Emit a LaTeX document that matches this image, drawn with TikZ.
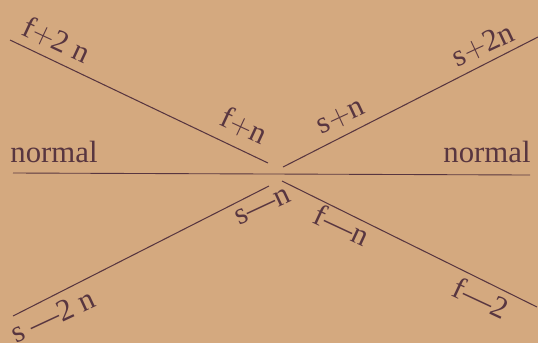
\documentclass[tikz,border=0pt]{standalone}
\usepackage{fontspec}
\setmainfont{Liberation Serif}
\usepackage{xcolor}
\usepackage{tikz}
\usetikzlibrary{positioning, calc}

\definecolor{paper}{RGB}{212,169,127}
\definecolor{ink}{RGB}{88,54,64}

\begin{document}
\begin{tikzpicture}[
      x=0.02cm, y=-0.02cm,
      every node/.style={text=ink, font=\fontsize{17.5}{20}\selectfont, inner sep=1pt},
      ray/.style={draw=ink, line width=0.6pt},
      base/.style={draw=ink, line width=0.5pt}
    ]
      % paper
      \fill[paper] (0,0) rectangle (538,343);
      \useasboundingbox (0,0) rectangle (538,343);

      % end points of the rays
      \coordinate (ul) at (10,40);
      \coordinate (ulc) at (268,163);
      \coordinate (ur) at (538,37);
      \coordinate (urc) at (283,167);
      \coordinate (ll) at (13,316);
      \coordinate (llc) at (269,186);
      \coordinate (lr) at (537,307);
      \coordinate (lrc) at (282,181);
      \coordinate (nl) at (13,173);
      \coordinate (nr) at (530,175);

      \draw[ray] (ul) -- (ulc);
      \draw[ray] (urc) -- (ur);
      \draw[ray] (ll) -- (llc);
      \draw[ray] (lrc) -- (lr);
      \draw[base] (nl) -- (nr);

      % labels
      \node[rotate=-25] (f2n) at (57,40) {f$+$2 n};
      \node[rotate=-25] (fn) at (244,126) {f$+$n};
      \node[rotate=25] (sn) at (341,117) {s$+$n};
      \node[rotate=25] (s2n) at (483,45) {s$+$2n};
      \node (norml) at (54,152) {normal};
      \node (normr) at (487,152) {normal};
      \node[rotate=25] (smn) at (263,207) {s---n};
      \node[rotate=-25] (fmn) at (342,225) {f---n};
      \node[rotate=25] (sm2n) at (53,316) {s ---2 n};
      \node[rotate=-25] (fm2) at (481,298) {f---2};
    \end{tikzpicture}
\end{document}
